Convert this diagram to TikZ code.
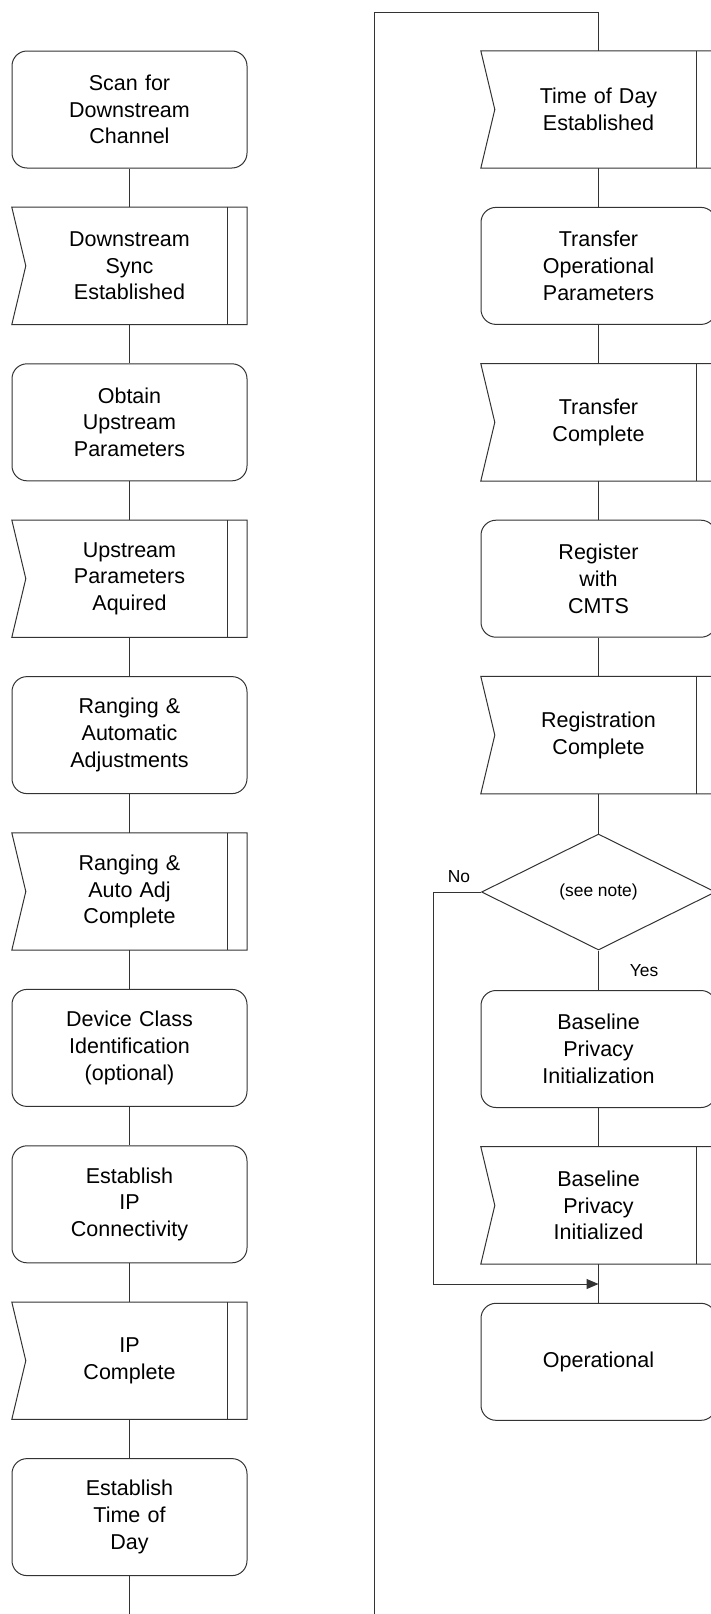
\documentclass[tikz,border=0pt]{standalone}
\usepackage{fontspec}
\setmainfont{Liberation Sans}
\usetikzlibrary{shapes.geometric,arrows.meta}
\tikzset{
  base/.style={font=\fontsize{21.5}{26.7}\selectfont, align=center, minimum width=235pt, minimum height=117pt, inner sep=0pt, text width=230pt},
  proc/.style={base, rectangle, draw=black!80, line width=1pt, rounded corners=15pt},
  sig/.style={base, rectangle},
  dec/.style={diamond, draw=black!80, line width=1pt, minimum width=234pt, minimum height=116pt, inner sep=0pt, font=\fontsize{17.4}{20}\selectfont},
  lab/.style={font=\fontsize{17.4}{20}\selectfont, inner sep=0pt},
  conn/.style={line width=1pt, draw=black!80},
}
\begin{document}
\begin{tikzpicture}[x=1pt,y=-1pt]
\useasboundingbox (0,0) rectangle (711,1614);
\clip (0,0) rectangle (711,1614);
% left column
\node[proc] (L0) at (129.5,109.5) {Scan for\\Downstream\\Channel};
\node[sig]  (L1) at (129.5,265.9) {Downstream\\Sync\\Established};
\node[proc] (L2) at (129.5,422.3) {Obtain\\Upstream\\Parameters};
\node[sig]  (L3) at (129.5,578.7) {Upstream\\Parameters\\Aquired};
\node[proc] (L4) at (129.5,735.1) {Ranging \&\\Automatic\\Adjustments};
\node[sig]  (L5) at (129.5,891.5) {Ranging \&\\Auto Adj\\Complete};
\node[proc] (L6) at (129.5,1047.9) {Device Class\\Identification\\(optional)};
\node[proc] (L7) at (129.5,1204.3) {Establish\\IP\\Connectivity};
\node[sig]  (L8) at (129.5,1360.7) {IP\\Complete};
\node[proc] (L9) at (129.5,1517.1) {Establish\\Time of\\Day};
% right column
\node[sig]  (R0) at (598.5,109.5) {Time of Day\\Established};
\node[proc] (R1) at (598.5,265.9) {Transfer\\Operational\\Parameters};
\node[sig]  (R2) at (598.5,422.3) {Transfer\\Complete};
\node[proc] (R3) at (598.5,578.7) {Register\\with\\CMTS};
\node[sig]  (R4) at (598.5,735.1) {Registration\\Complete};
\node[dec]  (R5) at (598.5,892) {(see note)};
\node[proc] (R6) at (598.5,1049) {Baseline\\Privacy\\Initialization};
\node[sig]  (R7) at (598.5,1205.4) {Baseline\\Privacy\\Initialized};
\node[proc] (R8) at (598.5,1361.8) {Operational};
% signal shapes
\foreach \n in {L1,L3,L5,L8,R0,R2,R4,R7}{
  \draw[conn] (\n.north west) -- (\n.north east) -- (\n.south east) -- (\n.south west) -- ([xshift=14pt]\n.west) -- cycle;
  \draw[conn] ([xshift=-20pt]\n.north east) -- ([xshift=-20pt]\n.south east);
}
% labels
\node[lab] (no) at (459,877) {No};
\node[lab] (yes) at (644,971) {Yes};
% coordinates
\coordinate (lbot) at (129.5,1614);
\coordinate (loopb) at (374,1614);
\coordinate (loopt) at (374,12);
\coordinate (rtop) at (598.5,12);
\coordinate (nocorner) at (433,892);
\coordinate (join) at (598.5,1284);
% connectors
\foreach \a/\b in {L0/L1,L1/L2,L2/L3,L3/L4,L4/L5,L5/L6,L6/L7,L7/L8,L8/L9,R0/R1,R1/R2,R2/R3,R3/R4,R4/R5,R5/R6,R6/R7,R7/R8}{
  \draw[conn] (\a.south) -- (\b.north);
}
\draw[conn] (L9.south) -- (lbot);
\draw[conn] (loopb) -- (loopt) -- (rtop) -- (R0.north);
\draw[conn,-{Triangle[length=12pt,width=10pt]}] (R5.west) -- (nocorner) |- (join);
\end{tikzpicture}
\end{document}
